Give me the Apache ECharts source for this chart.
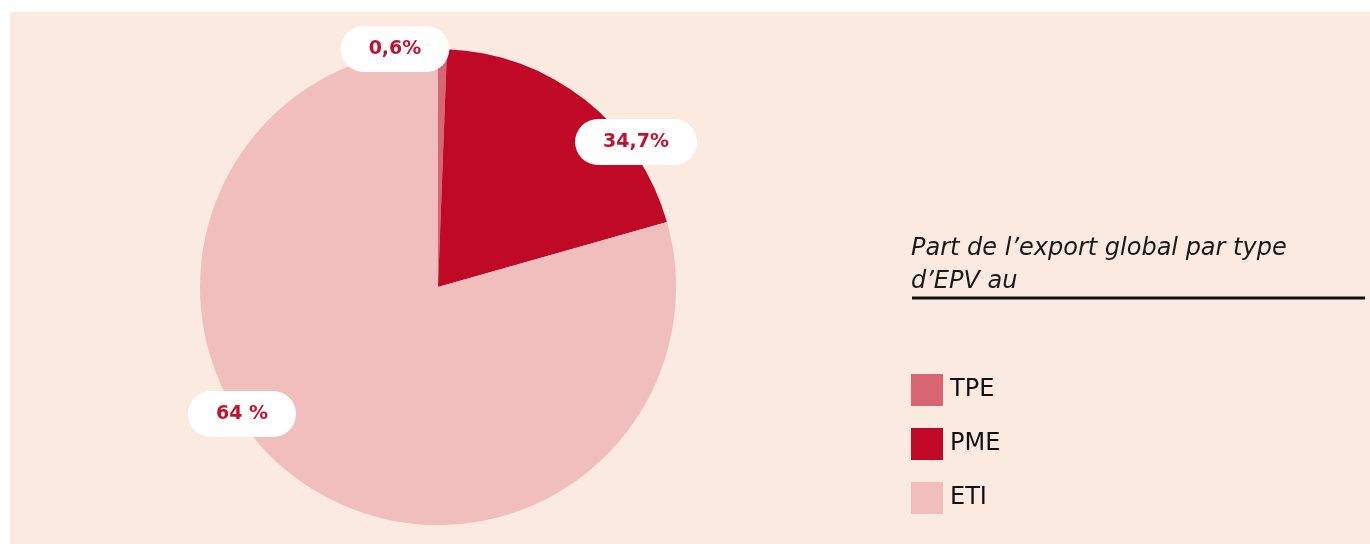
<!DOCTYPE html>
<html>
<head>
<meta charset="utf-8">
<script src="https://cdn.jsdelivr.net/npm/echarts@6/dist/echarts.min.js"></script>
<style>
  html, body { margin: 0; padding: 0; background: #ffffff; }
  #chart { width: 1370px; height: 544px; }
</style>
</head>
<body>
<div id="chart"></div>
<script>
// catégories et valeurs (angles)
const categories = ['TPE', 'PME', 'ETI']
const values = [0.6, 20.0, 79.4]
// textes affichés dans les étiquettes
const labelTexts = ['0,6%', '34,7%', '64 %']
const colors = ['#D86672', '#C00926', '#F0BEBD']
const titleText = 'Part de l\u2019export global par type\nd\u2019EPV au'

const chart = echarts.init(document.getElementById('chart'), null, { renderer: 'canvas' })

// positions des pastilles blanches
const pillCenters = [[395, 49], [636, 142], [242, 414]]

const option = {
  animation: false,
  backgroundColor: '#ffffff',
  graphic: [
    {
      type: 'rect',
      z: -10,
      shape: { x: 10, y: 12, width: 1360, height: 532 },
      style: { fill: '#FBEAE0' }
    },
    {
      type: 'text',
      left: 911,
      top: 232,
      style: {
        text: titleText,
        font: 'oblique 24px "DejaVu Sans"',
        lineHeight: 33,
        fill: '#1a1a1a'
      }
    },
    {
      type: 'line',
      shape: { x1: 912, y1: 298, x2: 1365, y2: 298 },
      style: { stroke: '#111111', lineWidth: 3 }
    }
  ],
  legend: {
    orient: 'vertical',
    left: 911,
    top: 374,
    padding: 0,
    icon: 'rect',
    itemWidth: 32,
    itemHeight: 32,
    itemGap: 22,
    data: categories,
    textStyle: {
      fontFamily: 'DejaVu Sans',
      fontSize: 24,
      color: '#111111',
      padding: [0, 0, 0, 2]
    }
  },
  series: [
    {
      type: 'pie',
      center: [438, 287],
      radius: 238,
      startAngle: 90,
      clockwise: true,
      silent: true,
      data: categories.map((name, i) => ({
        name,
        value: values[i],
        itemStyle: { color: colors[i] },
        label: { formatter: labelTexts[i] }
      })),
      label: {
        show: true,
        position: 'outside',
        fontFamily: 'DejaVu Sans',
        fontWeight: 'bold',
        fontSize: 19,
        color: '#C3122F',
        backgroundColor: '#ffffff',
        borderRadius: 23,
        padding: [11, 28],
        lineHeight: 24
      },
      labelLine: { show: false },
      labelLayout: function (params) {
        const p = pillCenters[params.dataIndex]
        return { x: p[0], y: p[1], align: 'center', verticalAlign: 'middle' }
      }
    }
  ]
}

chart.setOption(option)
window.addEventListener('resize', () => chart.resize())
</script>
</body>
</html>
